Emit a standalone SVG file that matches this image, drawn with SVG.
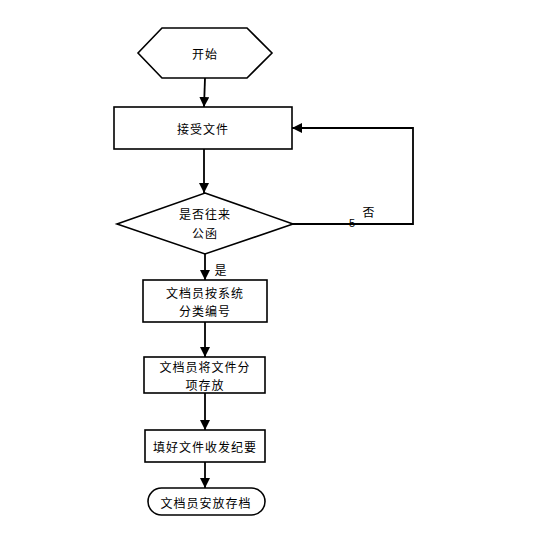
<svg xmlns="http://www.w3.org/2000/svg" width="555" height="552" viewBox="0 0 555 552">
<style>
.s{fill:#fff;stroke:#000;stroke-width:1.6}
.c{fill:none;stroke:#000;stroke-width:1.8}
text{font-family:"Noto Sans CJK SC","Liberation Sans",sans-serif;font-size:12px;letter-spacing:1px;fill:#000;text-anchor:middle;dominant-baseline:central}
</style>
<defs>
<marker id="a" markerWidth="10" markerHeight="10" refX="10" refY="5" orient="auto" markerUnits="userSpaceOnUse">
<path d="M0,0 L10,5 L0,10 Z" fill="#000"/>
</marker>
</defs>
<rect width="555" height="552" fill="#fff"/>
<g id="connectors">
<line class="c" x1="205" y1="78" x2="204" y2="107" marker-end="url(#a)"/>
<line class="c" x1="204" y1="149" x2="204" y2="193" marker-end="url(#a)"/>
<polyline class="c" points="293,224 413,224 413,128 292,128" marker-end="url(#a)"/>
<line class="c" x1="205" y1="254" x2="205" y2="280" marker-end="url(#a)"/>
<line class="c" x1="205" y1="322" x2="205" y2="357" marker-end="url(#a)"/>
<line class="c" x1="205" y1="393" x2="205" y2="430" marker-end="url(#a)"/>
<line class="c" x1="205" y1="462" x2="205" y2="488" marker-end="url(#a)"/>
<text x="369" y="211">否</text>
<text x="352" y="223" style="font-family:'Liberation Sans',sans-serif;font-size:11px;letter-spacing:0">5</text>
<text x="221" y="269">是</text>
</g>
<g id="start">
<polygon class="s" points="162,28 247,28 272,53 247,78 162,78 138,53"/>
<text x="205" y="53">开始</text>
</g>
<g id="receive">
<rect class="s" x="114" y="107" width="178" height="42"/>
<text x="203" y="128">接受文件</text>
</g>
<g id="decision">
<polygon class="s" points="205,193 293,224 205,254 117,224"/>
<text x="205" y="213">是否往来</text>
<text x="205" y="232">公函</text>
</g>
<g id="classify">
<rect class="s" x="143" y="280" width="124" height="42"/>
<text x="205" y="292">文档员按系统</text>
<text x="205" y="310">分类编号</text>
</g>
<g id="store">
<rect class="s" x="144" y="357" width="121" height="36"/>
<text x="205" y="366">文档员将文件分</text>
<text x="205" y="384">项存放</text>
</g>
<g id="record">
<rect class="s" x="145" y="430" width="120" height="32"/>
<text x="205" y="446">填好文件收发纪要</text>
</g>
<g id="archive">
<rect class="s" x="148" y="488" width="117" height="27" rx="13.5" ry="13.5"/>
<text x="206" y="502">文档员安放存档</text>
</g>
</svg>
